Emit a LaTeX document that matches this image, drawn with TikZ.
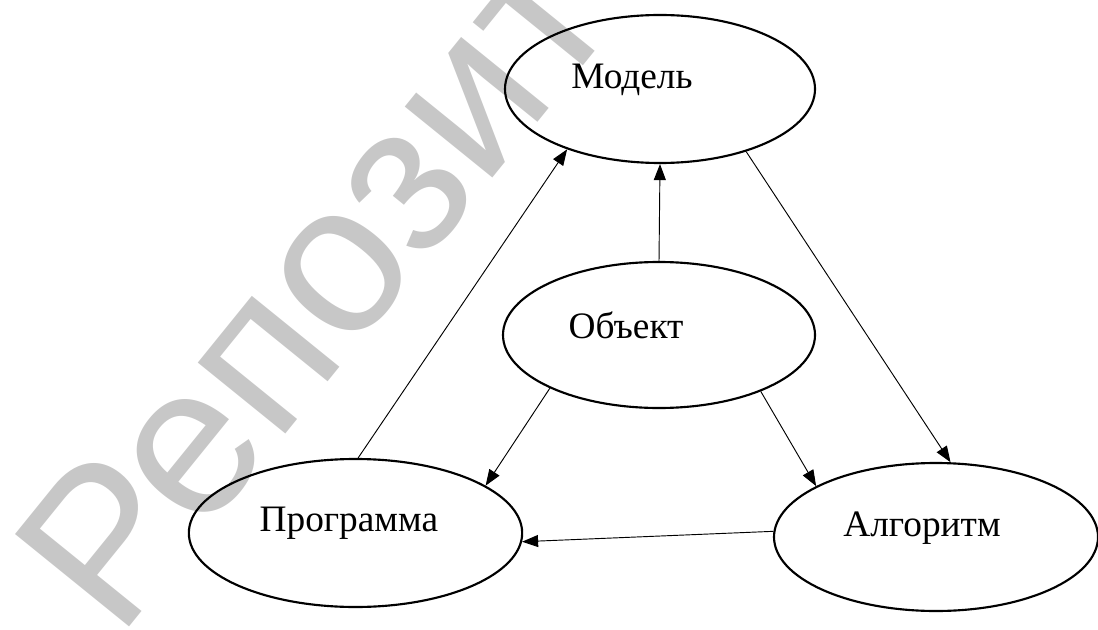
\documentclass[tikz,border=0pt]{standalone}
\usepackage{fontspec}
\setmainfont{Liberation Serif}
\newfontfamily\wmfont{Liberation Sans}
\usetikzlibrary{arrows.meta, shapes.geometric}
\tikzset{blob/.style={ellipse, draw, line width=1.6pt, inner sep=0pt, minimum height=111pt},
  link/.style={-{Triangle[length=12pt, width=9pt]}, line width=0.7pt},
  wmark/.style={font=\wmfont\fontsize{160}{165}\selectfont, text=black!22, rotate=51, anchor=base west, inner sep=0pt}}
\begin{document}
\begin{tikzpicture}[x=0.75pt, y=0.75pt, font=\fontsize{28}{32}\selectfont]
\useasboundingbox (0,0) rectangle (1098,629);
\begin{scope}
\clip (0,0) rectangle (1098,629);
\node[wmark] (wm) at (118,-12) {Репозиторий};
\end{scope}
\node[blob, minimum width=232.5pt, label={[xshift=-21pt, yshift=7pt]center:Модель}] (model) at (660,540) {};
\node[blob, minimum width=234pt, minimum height=109.5pt, label={[xshift=-24.75pt, yshift=7pt]center:Объект}] (obj) at (659,294) {};
\node[blob, minimum width=250pt, label={[xshift=-5pt, yshift=7pt]center:Программа}] (prog) at (355.5,96) {};
\node[blob, minimum width=243pt, label={[xshift=-10.5pt, yshift=7pt]center:Алгоритм}] (alg) at (936,92) {};
\draw[link] (prog.88) -- (model.213);
\draw[link] (obj.north) -- (model.south);
\draw[link] (model.324) -- (alg.79);
\draw[link] (obj.206) -- (prog.20);
\draw[link] (obj.331) -- (alg.157);
\draw[link] (alg.178) -- (prog.357);
\end{tikzpicture}
\end{document}
